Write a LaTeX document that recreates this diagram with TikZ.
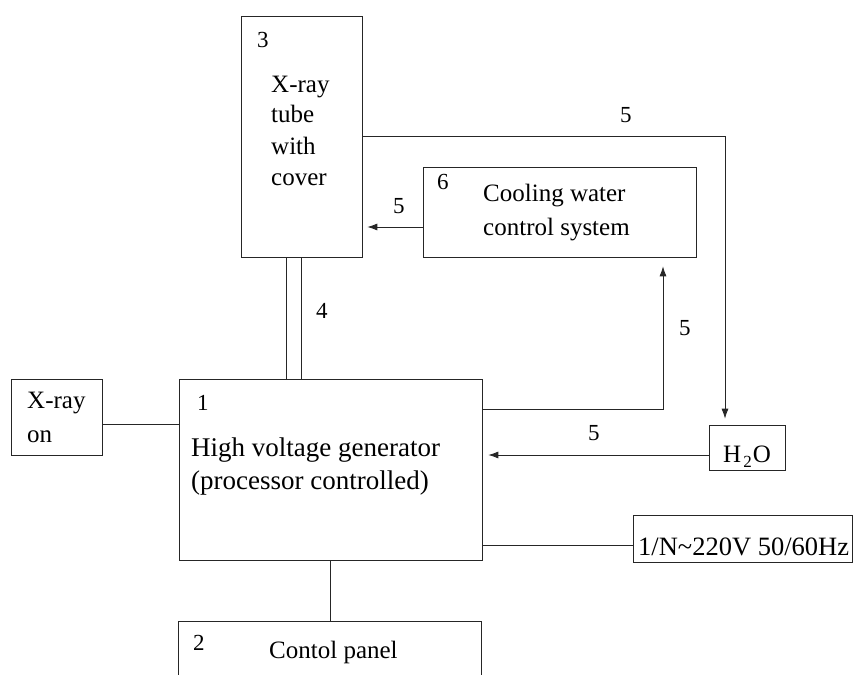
\documentclass[tikz,border=0pt]{standalone}
\usepackage{fontspec}
\setmainfont{Liberation Serif}
\usetikzlibrary{arrows.meta}
\begin{document}
\begin{tikzpicture}[x=1pt,y=-1pt,
  box/.style={draw=black!85,line width=0.7pt,inner sep=0pt,minimum width=#1},
  wire/.style={draw=black!85,line width=0.8pt},
  arr/.style={wire,-{Latex[length=10pt,width=7pt]}},
  txt/.style={anchor=base west,inner sep=0pt,font=\fontsize{25}{30}\selectfont},
  bigtxt/.style={anchor=base west,inner sep=0pt,font=\fontsize{27}{32}\selectfont},
  num/.style={anchor=base west,inner sep=0pt,font=\fontsize{23}{28}\selectfont}]
\clip (0,0) rectangle (853,674);
\fill[white] (0,0) rectangle (853,674);
% boxes
\node[box=121pt,minimum height=241pt] (tube) at (301.5,136.5) {};
\node[box=273pt,minimum height=90pt] (cool) at (559.5,212) {};
\node[box=303pt,minimum height=181pt] (hv) at (330.5,469.5) {};
\node[box=91pt,minimum height=76pt] (xon) at (56.5,417) {};
\node[box=76pt,minimum height=45pt] (h2o) at (747,447.5) {};
\node[box=219pt,minimum height=47pt] (mains) at (742.5,538.5) {};
\node[box=303pt,minimum height=79pt] (panel) at (329.5,660.5) {};
% texts
\node[num] (t3) at (257,48) {3};
\node[txt] (t3a) at (271,93) {X-ray};
\node[txt] (t3b) at (271,123) {tube};
\node[txt] (t3c) at (271,154) {with};
\node[txt] (t3d) at (271,185) {cover};
\node[num] (t6) at (437,189) {6};
\node[txt] (t6a) at (483,201) {Cooling water};
\node[txt] (t6b) at (483,235) {control system};
\node[num] (t1) at (197,410) {1};
\node[bigtxt] (t1a) at (191,456) {High voltage generator};
\node[bigtxt] (t1b) at (191,489) {(processor controlled)};
\node[txt] (txa) at (27,408) {X-ray};
\node[txt] (txb) at (27,442) {on};
\node[txt] (th2o) at (723,462) {H\kern2pt\raisebox{-5pt}{\fontsize{17}{20}\selectfont 2}\kern1pt O};
\node[txt,font=\fontsize{26.5}{30}\selectfont] (tmain) at (638,555) {1/N\textasciitilde 220V 50/60Hz};
\node[num] (t2) at (193,650) {2};
\node[txt] (t2a) at (269,658) {Contol panel};
% connector labels
\node[num] (l5a) at (620,123) {5};
\node[num] (l5b) at (393,213) {5};
\node[num] (l4) at (316,318) {4};
\node[num] (l5c) at (679,335) {5};
\node[num] (l5d) at (588,440) {5};
% connectors
\coordinate (c1) at (663,409);
\coordinate (c2) at (725,136);
\draw[arr,shorten >=6pt] (tube.east |- c2) -| (h2o.north -| c2);
\draw[arr,shorten >=5pt] ([yshift=-15pt]cool.west) -- ([yshift=-15pt]cool.west -| tube.east);
\draw[arr,shorten >=9pt] (hv.east |- c1) -| (cool.south -| c1);
\draw[arr,shorten >=6pt] ([yshift=-7.5pt]h2o.west) -- ([yshift=-7.5pt]h2o.west -| hv.east);
\draw[wire] ([yshift=-6.5pt]mains.west) -- ([yshift=-6.5pt]mains.west -| hv.east);
\draw[wire] ([yshift=-7pt]xon.east) -- ([yshift=-7pt]xon.east -| hv.west);
\draw[wire] (hv.south) -- (hv.south |- panel.north);
\draw[wire] ([xshift=-15.5pt]tube.south) -- ([xshift=-15.5pt]tube.south |- hv.north);
\draw[wire] ([xshift=-0.5pt]tube.south) -- ([xshift=-0.5pt]tube.south |- hv.north);
\end{tikzpicture}
\end{document}
